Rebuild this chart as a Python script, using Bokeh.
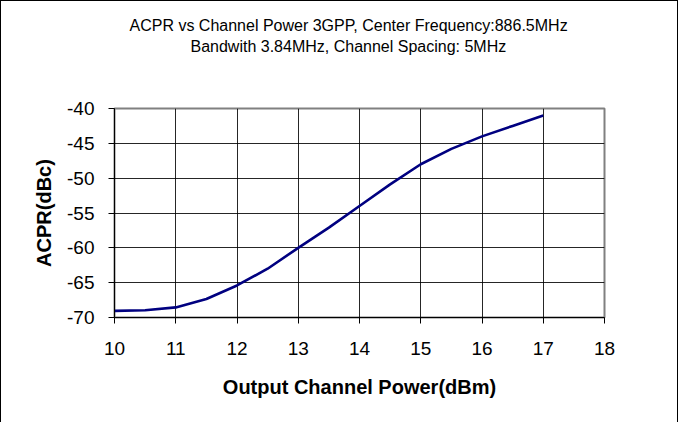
from bokeh.plotting import figure
from bokeh.models import FixedTicker, Range1d, Title
from bokeh.embed import file_html
from bokeh.resources import INLINE

# ---- data ----
output_power = [10, 10.5, 11, 11.5, 12, 12.5, 13, 13.5, 14, 14.5, 15, 15.5, 16, 16.5, 17]
acpr = [-69.05, -68.95, -68.55, -67.35, -65.4, -63.0, -60.0, -57.1, -54.0, -50.9,
        -48.0, -45.8, -44.0, -42.5, -41.0]
x_ticks = [10, 11, 12, 13, 14, 15, 16, 17, 18]
y_ticks = [-70, -65, -60, -55, -50, -45, -40]
title_line1 = "ACPR vs Channel Power 3GPP, Center Frequency:886.5MHz"
title_line2 = "Bandwith 3.84MHz, Channel Spacing: 5MHz"
x_label = "Output Channel Power(dBm)"
y_label = "ACPR(dBc)"

FONT = "Liberation Sans"

p = figure(width=678, height=422, output_backend="svg", toolbar_location=None,
           x_range=Range1d(10, 18), y_range=Range1d(-70, -40),
           min_border_left=113, min_border_right=75,
           min_border_top=107, min_border_bottom=106)
p.title.visible = False
p.background_fill_color = "white"
p.border_fill_color = "white"
p.outline_line_color = "#808080"
p.outline_line_width = 2
p.styles = {"border-left": "1px solid black", "border-top": "1px solid black",
            "border-right": "1px solid black"}

p.line(output_power, acpr, line_color="#000080", line_width=2.6, line_join="round")

for ax in (p.xaxis[0], p.yaxis[0]):
    ax.major_label_text_font = FONT
    ax.major_label_text_color = "black"
    ax.major_label_text_font_size = "19px"
    ax.axis_label_text_font = FONT
    ax.axis_label_text_font_style = "bold"
    ax.axis_label_text_font_size = "20px"
    ax.axis_label_text_color = "black"
    ax.axis_line_color = "black"
    ax.major_tick_line_color = "black"
    ax.major_tick_in = 0
    ax.major_tick_out = 6
    ax.minor_tick_line_color = None

p.xaxis[0].ticker = FixedTicker(ticks=x_ticks)
p.yaxis[0].ticker = FixedTicker(ticks=y_ticks)
p.yaxis[0].major_label_overrides = {t: str(t) for t in y_ticks}
p.xaxis[0].axis_label = x_label
p.yaxis[0].axis_label = y_label
p.xaxis[0].major_label_standoff = 18
p.yaxis[0].major_label_standoff = 14
p.xaxis[0].axis_label_standoff = 18
p.yaxis[0].axis_label_standoff = 9

p.xgrid.ticker = FixedTicker(ticks=x_ticks)
p.ygrid.ticker = FixedTicker(ticks=y_ticks)
for g in (p.xgrid[0], p.ygrid[0]):
    g.grid_line_color = "black"
    g.grid_line_width = 1
    g.grid_line_alpha = 0.85

# titles stacked above the plot: first added is closest to the frame
p.add_layout(Title(text=" ", text_font=FONT, text_font_size="44px", standoff=2), "above")
p.add_layout(Title(text=title_line2, align="left", offset=76, text_font=FONT,
                   text_font_size="16px", text_font_style="normal",
                   text_color="black", standoff=2), "above")
p.add_layout(Title(text=title_line1, align="left", offset=15, text_font=FONT,
                   text_font_size="16px", text_font_style="normal",
                   text_color="black", standoff=2), "above")

open("out.html", "w").write(file_html(p, INLINE))
